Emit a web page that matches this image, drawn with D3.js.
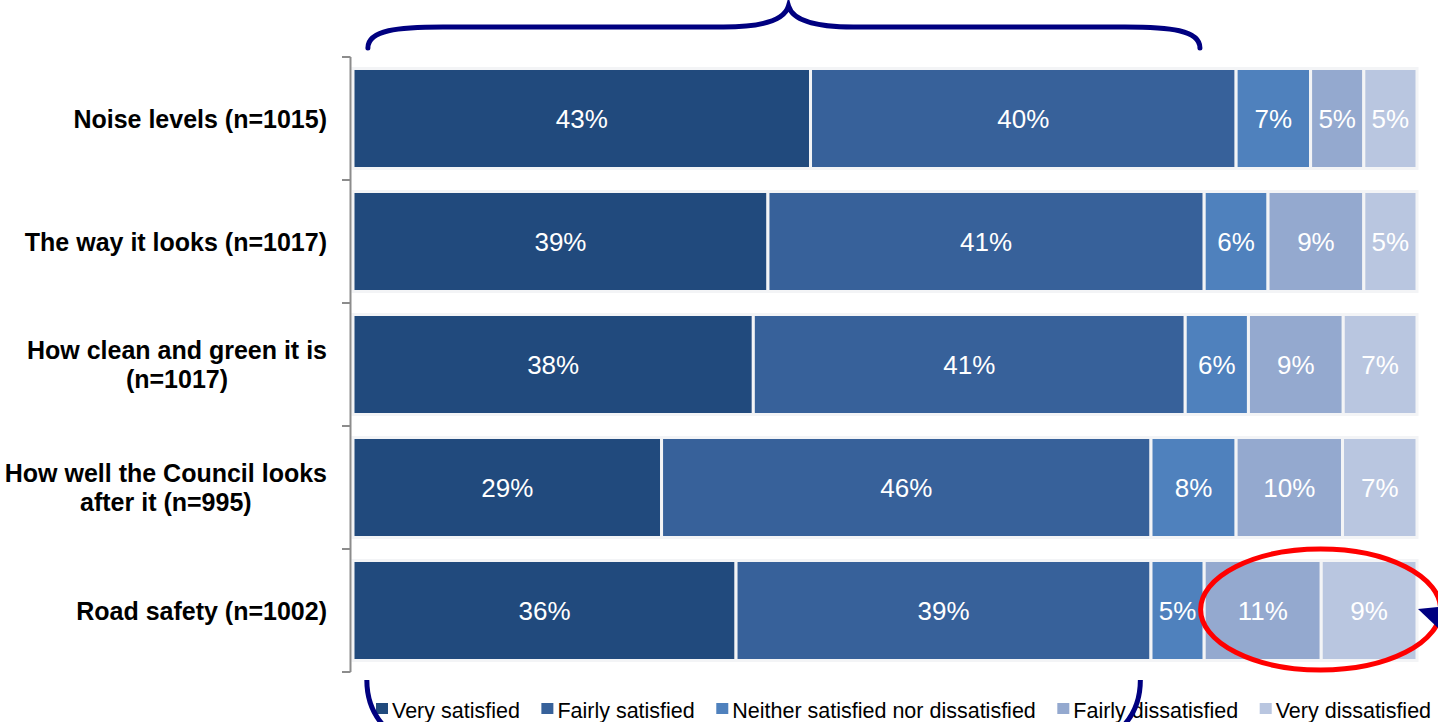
<!DOCTYPE html>
<html>
<head>
<meta charset="utf-8">
<script src="https://cdn.jsdelivr.net/npm/d3@7"></script>
<style>
  html, body { margin: 0; padding: 0; background: #ffffff; }
  svg { display: block; font-family: "Liberation Sans", Arial, sans-serif; }
</style>
</head>
<body>
<svg id="chart" width="1438" height="722"></svg>
<script>
// Satisfaction with the local area, percentage of respondents per aspect
const categories = [
  "Noise levels (n=1015)",
  "The way it looks (n=1017)",
  "How clean and green it is\n(n=1017)",
  "How well the Council looks\nafter it (n=995)",
  "Road safety (n=1002)"
];
const seriesNames = [
  "Very satisfied",
  "Fairly satisfied",
  "Neither satisfied nor dissatisfied",
  "Fairly dissatisfied",
  "Very dissatisfied"
];
const verySatisfied      = [43, 39, 38, 29, 36];
const fairlySatisfied    = [40, 41, 41, 46, 39];
const neitherNor         = [7, 6, 6, 8, 5];
const fairlyDissatisfied = [5, 9, 9, 10, 11];
const veryDissatisfied   = [5, 5, 7, 7, 9];
const seriesColors = ["#214a7d", "#37619a", "#4f81bd", "#94a9cf", "#b9c6e0"];

const seriesValues = [verySatisfied, fairlySatisfied, neitherNor, fairlyDissatisfied, veryDissatisfied];
const rows = categories.map((c, i) => {
  const r = { category: c };
  seriesNames.forEach((s, k) => { r[s] = seriesValues[k][i]; });
  return r;
});

const svg = d3.select("#chart");

const x = d3.scaleLinear().domain([0, 1]).range([353, 1417]);
const y = d3.scaleBand().domain(categories).range([57, 672])
  .paddingInner(0.187).paddingOuter(0.0935);
const color = d3.scaleOrdinal().domain(seriesNames).range(seriesColors);

// each bar is shown as shares of its own total
const stacked = d3.stack().keys(seriesNames).offset(d3.stackOffsetExpand)(rows);

const layers = svg.append("g").selectAll("g")
  .data(stacked)
  .join("g")
  .attr("fill", d => color(d.key));

layers.selectAll("rect")
  .data(d => d.map(p => ({ p, key: d.key })))
  .join("rect")
  .attr("x", d => x(d.p[0]))
  .attr("y", d => y(d.p.data.category))
  .attr("width", d => x(d.p[1]) - x(d.p[0]))
  .attr("height", y.bandwidth())
  .attr("stroke", "#f3f4f6")
  .attr("stroke-width", 3);

layers.selectAll("text")
  .data(d => d.map(p => ({ p, key: d.key })))
  .join("text")
  .attr("x", d => (x(d.p[0]) + x(d.p[1])) / 2)
  .attr("y", d => y(d.p.data.category) + y.bandwidth() / 2)
  .attr("dy", "0.36em")
  .attr("text-anchor", "middle")
  .attr("fill", "#ffffff")
  .attr("font-size", "26px")
  .text(d => d.p.data[d.key] + "%");

// category axis with ticks between the bands
const axisX = 350.5;
const axis = svg.append("g").attr("stroke", "#8c8c8c").attr("stroke-width", 2);
axis.append("line").attr("x1", axisX).attr("x2", axisX)
  .attr("y1", y.range()[0]).attr("y2", y.range()[1]);
const bounds = categories.map(c => y(c) - y.step() * y.paddingInner() / 2);
bounds.push(y.range()[1]);
bounds[0] = y.range()[0];
axis.selectAll("line.tick").data(bounds).join("line").attr("class", "tick")
  .attr("x1", 342).attr("x2", axisX).attr("y1", d => d).attr("y2", d => d);

// category labels: block centred on its widest line, right edge at the axis gap
const labelRight = 327;
const lineHeight = 29.5;
const labels = svg.append("g")
  .attr("font-size", "25px").attr("font-weight", "bold").attr("fill", "#000");
categories.forEach(c => {
  const lines = c.split("\n");
  const t = labels.append("text").attr("text-anchor", "middle");
  const cy = y(c) + y.bandwidth() / 2;
  const first = cy - (lines.length - 1) * lineHeight / 2;
  const spans = lines.map((ln, i) => t.append("tspan")
    .attr("y", first + i * lineHeight).attr("dy", "0.36em").text(ln));
  const w = d3.max(spans, s => s.node().getComputedTextLength());
  spans.forEach(s => s.attr("x", labelRight - w / 2));
});

// legend
const legend = svg.append("g").attr("font-size", "21.5px").attr("fill", "#000");
let lx = 376;
seriesNames.forEach(s => {
  legend.append("rect").attr("x", lx).attr("y", 703).attr("width", 12).attr("height", 11)
    .attr("fill", color(s));
  const t = legend.append("text").attr("x", lx + 16).attr("y", 718).text(s);
  lx += 16 + t.node().getComputedTextLength() + 21.5;
});

// annotations: braces over the satisfied share, ring round the dissatisfied share
const navy = "#000080";
const bx0 = x(0.014), bx1 = x(0.796), bxm = 788.5;
svg.append("path")
  .attr("d", `M${bx0},48 C${bx0},30 ${bx0 + 30},27 ${bx0 + 75},27 L${bxm - 65},27 C${bxm - 25},27 ${bxm - 4},20 ${bxm},6 C${bxm + 4},20 ${bxm + 25},27 ${bxm + 65},27 L${bx1 - 75},27 C${bx1 - 30},27 ${bx1},30 ${bx1},48`)
  .attr("fill", "none").attr("stroke", navy).attr("stroke-width", 5).attr("stroke-linecap", "round");

const cx0 = x(0.013), cx1 = x(0.74);
svg.append("path")
  .attr("d", `M${cx0},680 C${cx0},715 ${cx0 + 22},745 ${cx0 + 75},752 L${cx1 - 75},752 C${cx1 - 22},745 ${cx1},715 ${cx1},680`)
  .attr("fill", "none").attr("stroke", navy).attr("stroke-width", 5);

const roadRow = categories[4];
svg.append("ellipse")
  .attr("cx", (x(0.8) + x(1)) / 2 + 10)
  .attr("cy", y(roadRow) + y.bandwidth() / 2 - 1)
  .attr("rx", 120).attr("ry", 60.5)
  .attr("fill", "none").attr("stroke", "#ff0000").attr("stroke-width", 5);

svg.append("path")
  .attr("d", "M1418,609 L1438,607 L1438,628 Z")
  .attr("fill", navy);
</script>
</body>
</html>
